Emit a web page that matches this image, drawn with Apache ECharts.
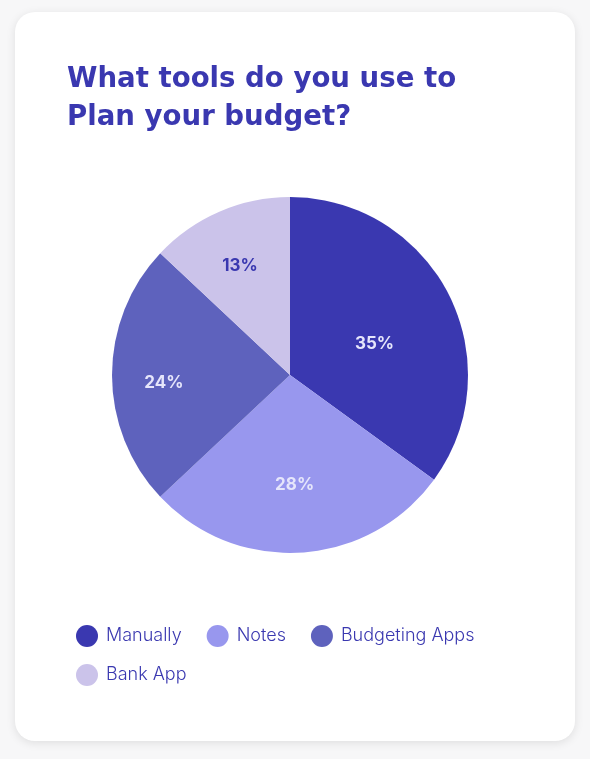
<!DOCTYPE html>
<html>
<head>
<meta charset="utf-8">
<script src="https://cdn.jsdelivr.net/npm/echarts@6/dist/echarts.min.js"></script>
<style>
html,body{margin:0;padding:0;background:#f7f7f8;width:590px;height:759px;overflow:hidden;}
#card{position:absolute;left:15px;top:12px;width:560px;height:729px;background:#fff;border-radius:20px;box-shadow:0 2px 10px rgba(0,0,0,0.10);}
#chart{position:absolute;left:0;top:0;width:590px;height:759px;}
</style>
</head>
<body>
<div id="card"></div>
<div id="chart"></div>
<script>
const categories = ["Manually", "Notes", "Budgeting Apps", "Bank App"];
const values = [35, 28, 24, 13];
const colors = ["#3a38b0", "#9897ee", "#5e62bd", "#cbc3ea"];
const labelColors = ["#e6e6fb", "#e6e6fb", "#e6e6fb", "#3a38b0"];
const titleText = "What tools do you use to\nPlan your budget?";

// label placement style (radial fraction of radius, angle nudge in degrees)
const labelRadial = [0.505, 0.62, 0.71, 0.675];
const labelNudge = [-7, -1.2, 3.4, 1.2];

const CX = 290, CY = 375, R = 178;
const total = values.reduce((a, b) => a + b, 0);
const midAngles = [];
{
  let a = 90;
  values.forEach(v => {
    const span = v / total * 360;
    midAngles.push(a - span / 2);
    a -= span;
  });
}

const chart = echarts.init(document.getElementById('chart'), null, {renderer: 'canvas'});
const legendText = {
  fontFamily: 'Inter',
  fontWeight: 300,
  fontSize: 18,
  color: '#3a38b0',
  padding: [0, 0, 0, 3]
};
chart.setOption({
  backgroundColor: 'transparent',
  animation: false,
  title: {
    text: titleText,
    left: 67,
    top: 61,
    padding: 0,
    textStyle: {
      fontFamily: 'DejaVu Sans',
      fontWeight: 'bold',
      fontSize: 27.6,
      lineHeight: 38,
      color: '#3a38b0'
    }
  },
  legend: [{
    left: 76,
    top: 625,
    orient: 'horizontal',
    icon: 'circle',
    itemWidth: 22,
    itemHeight: 22,
    itemGap: 25,
    padding: 0,
    selectedMode: false,
    textStyle: legendText,
    data: categories.slice(0, 3)
  }, {
    left: 76,
    top: 664,
    orient: 'horizontal',
    icon: 'circle',
    itemWidth: 22,
    itemHeight: 22,
    itemGap: 25,
    padding: 0,
    selectedMode: false,
    textStyle: legendText,
    data: categories.slice(3)
  }],
  series: [{
    type: 'pie',
    center: [CX, CY],
    radius: [0, R],
    startAngle: 90,
    clockwise: true,
    silent: true,
    label: {
      show: true,
      position: 'inside',
      formatter: '{c}%',
      fontFamily: 'Inter',
      fontWeight: 700,
      fontSize: 17
    },
    labelLine: {show: false},
    labelLayout: function (p) {
      const i = p.dataIndex;
      const ang = (midAngles[i] + labelNudge[i]) * Math.PI / 180;
      const d = labelRadial[i] * R;
      const tx = CX + d * Math.cos(ang);
      const ty = CY - d * Math.sin(ang);
      const r = p.labelRect;
      return {dx: tx - (r.x + r.width / 2), dy: ty - (r.y + r.height / 2)};
    },
    itemStyle: {borderWidth: 0},
    data: categories.map((n, i) => ({
      name: n,
      value: values[i],
      itemStyle: {color: colors[i]},
      label: {color: labelColors[i]}
    }))
  }]
});
</script>
</body>
</html>
